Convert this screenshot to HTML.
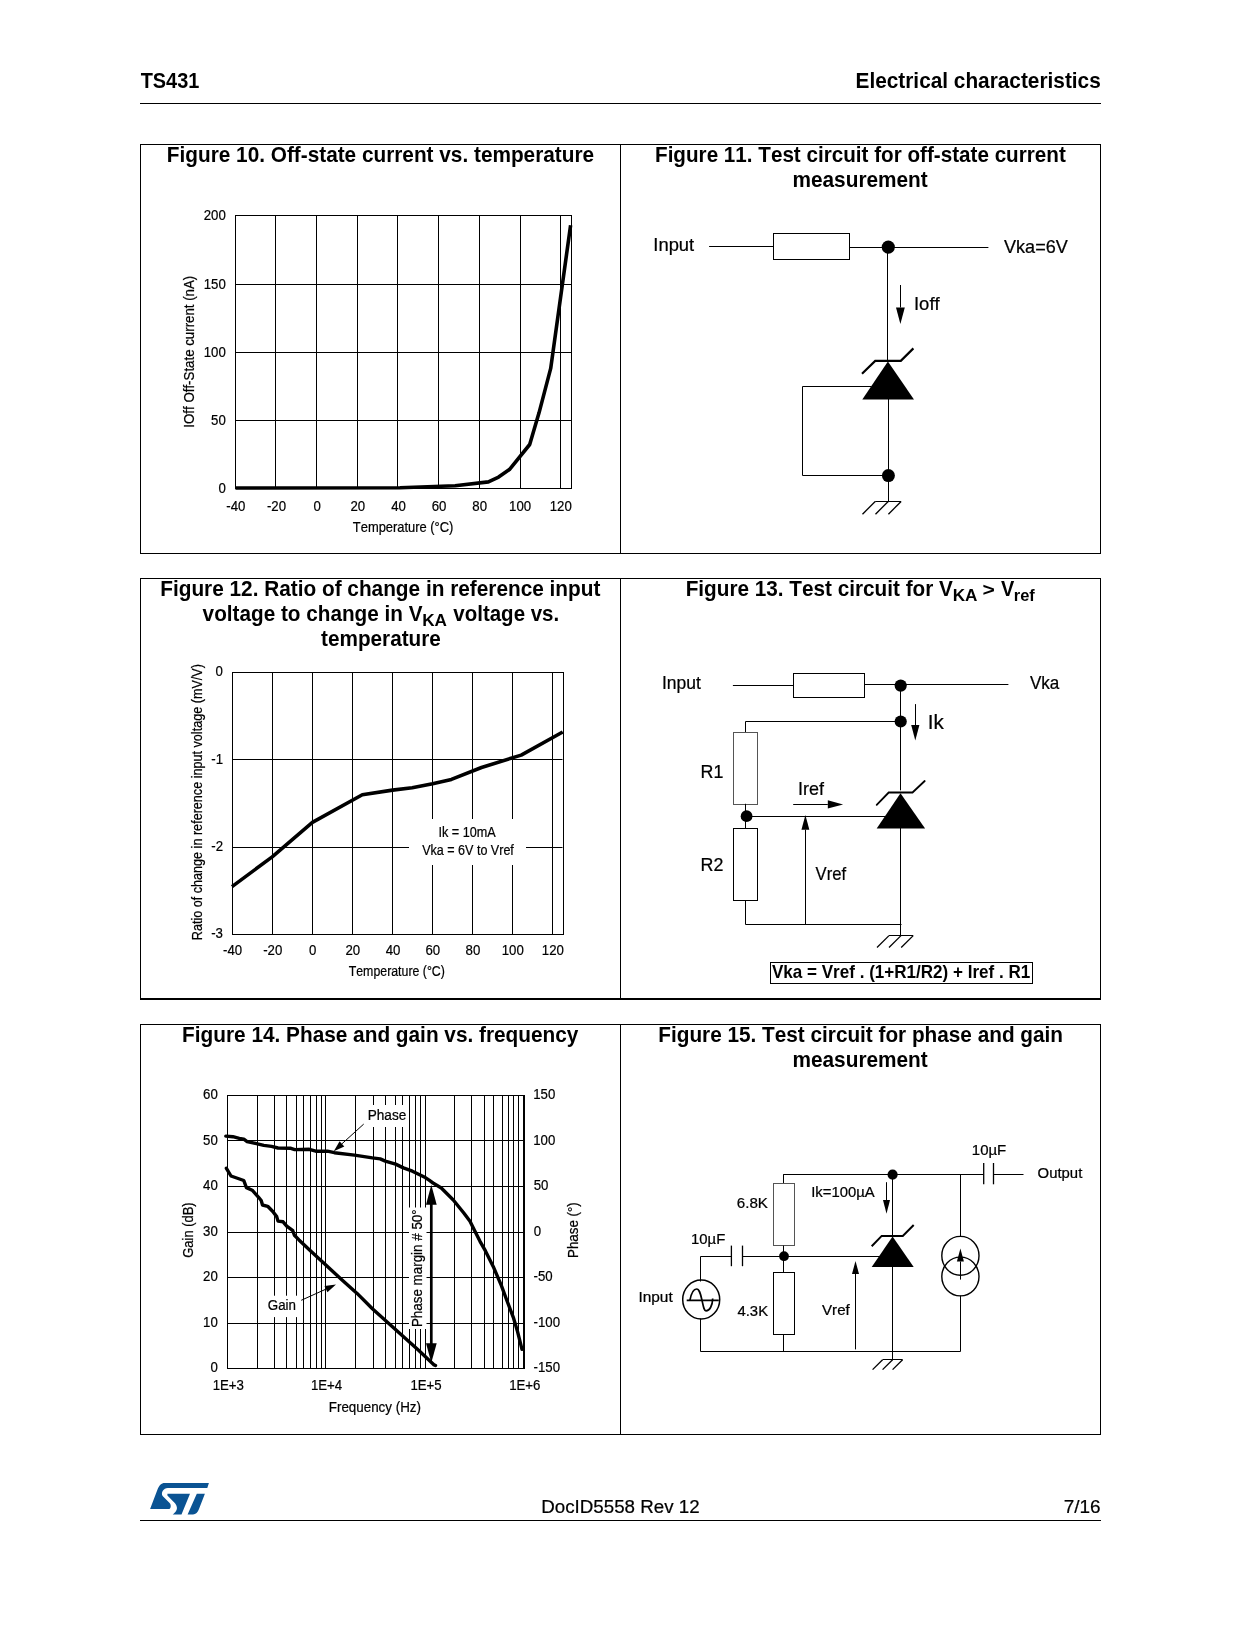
<!DOCTYPE html>
<html><head><meta charset="utf-8"><style>
html,body{margin:0;padding:0;background:#fff;}
svg{display:block;will-change:transform;}
text{font-family:"Liberation Sans",sans-serif;font-kerning:none;fill:#000;stroke:#000;stroke-width:0.22px;}
text[font-weight="bold"]{stroke:none;}
</style></head><body>
<svg width="1242" height="1650" viewBox="0 0 1242 1650">
<rect width="1242" height="1650" fill="#fff"/>
<text transform="translate(140.68,88.00) scale(0.8931,1)" font-size="22.3" font-weight="bold">TS431</text>
<text transform="translate(855.51,88.00) scale(0.9336,1)" font-size="22.3" font-weight="bold">Electrical characteristics</text>
<line x1="140" y1="103.5" x2="1101" y2="103.5" stroke="#000" stroke-width="1.2"/>
<rect x="140.5" y="144.5" width="960.0" height="409.0" fill="none" stroke="#000" stroke-width="1"/>
<line x1="620.5" y1="144" x2="620.5" y2="554" stroke="#000" stroke-width="1"/>
<rect x="140.5" y="578.5" width="960.0" height="420.0" fill="none" stroke="#000" stroke-width="1"/>
<line x1="620.5" y1="578" x2="620.5" y2="999" stroke="#000" stroke-width="1"/>
<line x1="140" y1="999.5" x2="1101" y2="999.5" stroke="#000" stroke-width="1"/>
<rect x="140.5" y="1024.5" width="960.0" height="410.0" fill="none" stroke="#000" stroke-width="1"/>
<line x1="620.5" y1="1024" x2="620.5" y2="1435" stroke="#000" stroke-width="1"/>
<text transform="translate(166.81,162.00) scale(0.9323,1)" font-size="22.3" font-weight="bold">Figure 10. Off-state current vs. temperature</text>
<text transform="translate(655.02,161.80) scale(0.9264,1)" font-size="22.3" font-weight="bold">Figure 11. Test circuit for off-state current</text>
<text transform="translate(792.53,186.90) scale(0.9325,1)" font-size="22.3" font-weight="bold">measurement</text>
<line x1="275.5" y1="215.5" x2="275.5" y2="488.5" stroke="#000" stroke-width="1"/>
<line x1="316.5" y1="215.5" x2="316.5" y2="488.5" stroke="#000" stroke-width="1"/>
<line x1="357.5" y1="215.5" x2="357.5" y2="488.5" stroke="#000" stroke-width="1"/>
<line x1="397.5" y1="215.5" x2="397.5" y2="488.5" stroke="#000" stroke-width="1"/>
<line x1="438.5" y1="215.5" x2="438.5" y2="488.5" stroke="#000" stroke-width="1"/>
<line x1="479.5" y1="215.5" x2="479.5" y2="488.5" stroke="#000" stroke-width="1"/>
<line x1="520.5" y1="215.5" x2="520.5" y2="488.5" stroke="#000" stroke-width="1"/>
<line x1="560.5" y1="215.5" x2="560.5" y2="488.5" stroke="#000" stroke-width="1"/>
<line x1="235.5" y1="284.5" x2="571.5" y2="284.5" stroke="#000" stroke-width="1"/>
<line x1="235.5" y1="352.5" x2="571.5" y2="352.5" stroke="#000" stroke-width="1"/>
<line x1="235.5" y1="420.5" x2="571.5" y2="420.5" stroke="#000" stroke-width="1"/>
<rect x="235.5" y="215.5" width="336.0" height="273.0" fill="none" stroke="#000" stroke-width="1"/>
<text transform="translate(203.74,220.00) scale(0.9000,1)" font-size="14.7">200</text>
<text transform="translate(203.74,288.90) scale(0.9000,1)" font-size="14.7">150</text>
<text transform="translate(203.74,356.90) scale(0.9000,1)" font-size="14.7">100</text>
<text transform="translate(211.10,424.80) scale(0.9000,1)" font-size="14.7">50</text>
<text transform="translate(218.46,492.60) scale(0.9000,1)" font-size="14.7">0</text>
<text transform="translate(226.30,510.80) scale(0.9000,1)" font-size="14.7">-40</text>
<text transform="translate(266.94,510.80) scale(0.9000,1)" font-size="14.7">-20</text>
<text transform="translate(313.50,510.80) scale(0.9000,1)" font-size="14.7">0</text>
<text transform="translate(350.39,510.80) scale(0.9000,1)" font-size="14.7">20</text>
<text transform="translate(391.21,510.80) scale(0.9000,1)" font-size="14.7">40</text>
<text transform="translate(431.66,510.80) scale(0.9000,1)" font-size="14.7">60</text>
<text transform="translate(472.35,510.80) scale(0.9000,1)" font-size="14.7">80</text>
<text transform="translate(509.10,510.80) scale(0.9000,1)" font-size="14.7">100</text>
<text transform="translate(549.74,510.80) scale(0.9000,1)" font-size="14.7">120</text>
<text transform="translate(194.10,427.63) rotate(-90) scale(0.9555,1)" font-size="13.9">IOff Off-State current (nA)</text>
<text transform="translate(352.81,531.90) scale(0.8792,1)" font-size="14.7">Temperature (°C)</text>
<polyline points="235.50,488.00 400.00,487.70 455.10,485.80 488.40,481.90 498.60,477.10 509.40,469.60 529.70,444.50 539.10,412.60 550.70,368.40 570.60,225.30" fill="none" stroke="#000" stroke-width="3.6" stroke-linejoin="round"/>
<text transform="translate(653.30,250.80) scale(1.0517,1)" font-size="17.5">Input</text>
<line x1="709.1" y1="246.5" x2="773.3" y2="246.5" stroke="#000" stroke-width="1"/>
<rect x="773.5" y="233.5" width="76.0" height="26.0" fill="none" stroke="#000" stroke-width="1"/>
<line x1="849.5" y1="247.5" x2="988.4" y2="247.5" stroke="#000" stroke-width="1"/>
<circle cx="888.3" cy="247.1" r="6.6" fill="#000"/>
<text transform="translate(1004.02,252.60) scale(1.0337,1)" font-size="17.5">Vka=6V</text>
<line x1="887.5" y1="247" x2="887.5" y2="360" stroke="#000" stroke-width="1"/>
<line x1="900.5" y1="285.0" x2="900.5" y2="307.5" stroke="#000" stroke-width="1"/>
<polygon points="896.00,307.50 904.80,307.50 900.40,323.90" fill="#000"/>
<text transform="translate(913.99,309.50) scale(1.0559,1)" font-size="17.5">Ioff</text>
<polygon points="887.90,361.50 914.00,399.40 862.30,399.40" fill="#000"/>
<polyline points="862.00,373.70 875.20,360.90 900.80,360.90 913.40,348.40" fill="none" stroke="#000" stroke-width="2.2"/>
<polyline points="871.50,386.50 802.50,386.50 802.50,475.50 888.50,475.50" fill="none" stroke="#000" stroke-width="1"/>
<line x1="888.5" y1="399" x2="888.5" y2="501.5" stroke="#000" stroke-width="1"/>
<circle cx="888.4" cy="475.6" r="6.5" fill="#000"/>
<line x1="875.2" y1="501.5" x2="901.1" y2="501.5" stroke="#000" stroke-width="1"/>
<line x1="875.2" y1="501.5" x2="862.5" y2="514.2" stroke="#000" stroke-width="1.3"/>
<line x1="888.2" y1="501.5" x2="875.5" y2="514.2" stroke="#000" stroke-width="1.3"/>
<line x1="901.1" y1="501.5" x2="888.4" y2="514.2" stroke="#000" stroke-width="1.3"/>
<text transform="translate(160.21,595.90) scale(0.9332,1)" font-size="22.3" font-weight="bold">Figure 12. Ratio of change in reference input</text>
<text transform="translate(321.05,645.90) scale(0.9300,1)" font-size="22.3" font-weight="bold">temperature</text>
<line x1="272.5" y1="672.5" x2="272.5" y2="934.5" stroke="#000" stroke-width="1"/>
<line x1="312.5" y1="672.5" x2="312.5" y2="934.5" stroke="#000" stroke-width="1"/>
<line x1="352.5" y1="672.5" x2="352.5" y2="934.5" stroke="#000" stroke-width="1"/>
<line x1="392.5" y1="672.5" x2="392.5" y2="934.5" stroke="#000" stroke-width="1"/>
<line x1="432.5" y1="672.5" x2="432.5" y2="934.5" stroke="#000" stroke-width="1"/>
<line x1="472.5" y1="672.5" x2="472.5" y2="934.5" stroke="#000" stroke-width="1"/>
<line x1="512.5" y1="672.5" x2="512.5" y2="934.5" stroke="#000" stroke-width="1"/>
<line x1="552.5" y1="672.5" x2="552.5" y2="934.5" stroke="#000" stroke-width="1"/>
<line x1="232.5" y1="759.5" x2="562.5" y2="759.5" stroke="#000" stroke-width="1"/>
<line x1="232.5" y1="847.5" x2="562.5" y2="847.5" stroke="#000" stroke-width="1"/>
<rect x="232.5" y="672.5" width="331.0" height="262.0" fill="none" stroke="#000" stroke-width="1"/>
<rect x="409" y="819" width="117" height="46" fill="#fff"/>
<text transform="translate(215.56,676.00) scale(0.9000,1)" font-size="14.7">0</text>
<text transform="translate(211.28,764.00) scale(0.9000,1)" font-size="14.7">-1</text>
<text transform="translate(211.30,851.20) scale(0.9000,1)" font-size="14.7">-2</text>
<text transform="translate(211.22,938.20) scale(0.9000,1)" font-size="14.7">-3</text>
<text transform="translate(223.10,954.60) scale(0.9000,1)" font-size="14.7">-40</text>
<text transform="translate(263.15,954.60) scale(0.9000,1)" font-size="14.7">-20</text>
<text transform="translate(309.12,954.60) scale(0.9000,1)" font-size="14.7">0</text>
<text transform="translate(345.42,954.60) scale(0.9000,1)" font-size="14.7">20</text>
<text transform="translate(385.65,954.60) scale(0.9000,1)" font-size="14.7">40</text>
<text transform="translate(425.51,954.60) scale(0.9000,1)" font-size="14.7">60</text>
<text transform="translate(465.61,954.60) scale(0.9000,1)" font-size="14.7">80</text>
<text transform="translate(501.77,954.60) scale(0.9000,1)" font-size="14.7">100</text>
<text transform="translate(541.82,954.60) scale(0.9000,1)" font-size="14.7">120</text>
<text transform="translate(201.80,940.23) rotate(-90) scale(0.9077,1)" font-size="13.9">Ratio of change in reference input voltage (mV/V)</text>
<text transform="translate(348.72,975.50) scale(0.8404,1)" font-size="14.7">Temperature (°C)</text>
<text transform="translate(438.53,837.00) scale(0.8604,1)" font-size="14.7">Ik = 10mA</text>
<text transform="translate(422.14,854.50) scale(0.8547,1)" font-size="14.7">Vka = 6V to Vref</text>
<polyline points="232.00,886.60 272.20,856.90 312.40,822.40 362.30,794.70 392.50,790.10 412.20,787.80 432.60,783.70 451.40,779.40 481.50,767.50 521.20,755.10 562.70,732.00" fill="none" stroke="#000" stroke-width="3.6" stroke-linejoin="round"/>
<text transform="translate(661.88,688.90) scale(1.0006,1)" font-size="17.5">Input</text>
<line x1="732.9" y1="685.5" x2="793.5" y2="685.5" stroke="#000" stroke-width="1"/>
<rect x="793.5" y="673.5" width="71.0" height="24.0" fill="none" stroke="#000" stroke-width="1"/>
<line x1="864.6" y1="684.5" x2="1008.4" y2="684.5" stroke="#000" stroke-width="1"/>
<circle cx="900.7" cy="685.6" r="6.1" fill="#000"/>
<text transform="translate(1029.92,689.00) scale(0.9775,1)" font-size="17.5">Vka</text>
<line x1="900.5" y1="684.6" x2="900.5" y2="790.3" stroke="#000" stroke-width="1"/>
<circle cx="900.7" cy="721.5" r="6.1" fill="#000"/>
<polyline points="745.50,732.50 745.50,721.50 900.50,721.50" fill="none" stroke="#000" stroke-width="1"/>
<rect x="733.5" y="732.5" width="24.0" height="72.0" fill="none" stroke="#555" stroke-width="1"/>
<circle cx="746.6" cy="816.2" r="5.9" fill="#000"/>
<line x1="745.5" y1="803.8" x2="745.5" y2="828.4" stroke="#000" stroke-width="1"/>
<rect x="733.5" y="828.5" width="24.0" height="72.0" fill="none" stroke="#000" stroke-width="1"/>
<polyline points="745.50,900.50 745.50,924.50 901.50,924.50" fill="none" stroke="#000" stroke-width="1"/>
<line x1="805.5" y1="924.3" x2="805.5" y2="829.7" stroke="#000" stroke-width="1"/>
<polygon points="801.45,829.70 809.35,829.70 805.40,815.10" fill="#000"/>
<line x1="746.5" y1="816.5" x2="886" y2="816.5" stroke="#000" stroke-width="1"/>
<line x1="793.2" y1="804.5" x2="827.8000000000001" y2="804.5" stroke="#000" stroke-width="1"/>
<polygon points="827.80,800.25 827.80,808.55 843.10,804.40" fill="#000"/>
<text transform="translate(798.04,794.80) scale(1.0255,1)" font-size="17.5">Iref</text>
<text transform="translate(927.69,728.90) scale(0.9842,1)" font-size="21.0">Ik</text>
<line x1="915.5" y1="704.1" x2="915.5" y2="725.1" stroke="#000" stroke-width="1"/>
<polygon points="911.20,725.10 919.40,725.10 915.30,740.50" fill="#000"/>
<text transform="translate(700.53,778.10) scale(1.0209,1)" font-size="17.5">R1</text>
<text transform="translate(700.53,870.80) scale(1.0222,1)" font-size="17.5">R2</text>
<text transform="translate(815.53,879.90) scale(0.9518,1)" font-size="17.5">Vref</text>
<polygon points="900.50,793.20 925.10,828.40 876.70,828.40" fill="#000"/>
<polyline points="876.70,804.80 888.70,792.50 912.50,792.50 924.70,781.00" fill="none" stroke="#000" stroke-width="1.8" stroke-linecap="round"/>
<line x1="900.5" y1="828" x2="900.5" y2="935.6" stroke="#000" stroke-width="1"/>
<line x1="889.0" y1="935.5" x2="913.2" y2="935.5" stroke="#000" stroke-width="1"/>
<line x1="889.0" y1="935.6" x2="877.0" y2="947.5" stroke="#000" stroke-width="1.3"/>
<line x1="901.0" y1="935.6" x2="889.0" y2="947.5" stroke="#000" stroke-width="1.3"/>
<line x1="913.2" y1="935.6" x2="901.2" y2="947.5" stroke="#000" stroke-width="1.3"/>
<rect x="770.5" y="962.5" width="262.0" height="21.0" fill="none" stroke="#000" stroke-width="1"/>
<text transform="translate(771.98,978.00) scale(0.9756,1)" font-size="17.5" font-weight="bold">Vka = Vref . (1+R1/R2) + Iref . R1</text>
<text transform="translate(202.62,620.70) scale(0.9297,1)" font-size="22.3" font-weight="bold">voltage to change in V</text>
<text transform="translate(422.15,625.50) scale(1.0407,1)" font-size="16.5" font-weight="bold">KA</text>
<text transform="translate(453.32,620.70) scale(0.9186,1)" font-size="22.3" font-weight="bold">voltage vs.</text>
<text transform="translate(685.71,595.70) scale(0.9299,1)" font-size="22.3" font-weight="bold">Figure 13. Test circuit for V</text>
<text transform="translate(952.65,600.80) scale(1.0407,1)" font-size="16.5" font-weight="bold">KA</text>
<text transform="translate(982.41,596.30) scale(1.2079,1)" font-size="17.5" font-weight="bold">&gt;</text>
<text transform="translate(1001.06,595.70) scale(0.8923,1)" font-size="22.3" font-weight="bold">V</text>
<text transform="translate(1013.81,600.80) scale(0.9982,1)" font-size="16.5" font-weight="bold">ref</text>
<text transform="translate(182.11,1041.90) scale(0.9332,1)" font-size="22.3" font-weight="bold">Figure 14. Phase and gain vs. frequency</text>
<line x1="257.5" y1="1095.5" x2="257.5" y2="1368.5" stroke="#000" stroke-width="1"/>
<line x1="274.5" y1="1095.5" x2="274.5" y2="1368.5" stroke="#000" stroke-width="1"/>
<line x1="286.5" y1="1095.5" x2="286.5" y2="1368.5" stroke="#000" stroke-width="1"/>
<line x1="296.5" y1="1095.5" x2="296.5" y2="1368.5" stroke="#000" stroke-width="1"/>
<line x1="303.5" y1="1095.5" x2="303.5" y2="1368.5" stroke="#000" stroke-width="1"/>
<line x1="310.5" y1="1095.5" x2="310.5" y2="1368.5" stroke="#000" stroke-width="1"/>
<line x1="316.5" y1="1095.5" x2="316.5" y2="1368.5" stroke="#000" stroke-width="1"/>
<line x1="321.5" y1="1095.5" x2="321.5" y2="1368.5" stroke="#000" stroke-width="1"/>
<line x1="325.5" y1="1095.5" x2="325.5" y2="1368.5" stroke="#000" stroke-width="1"/>
<line x1="355.5" y1="1095.5" x2="355.5" y2="1368.5" stroke="#000" stroke-width="1"/>
<line x1="373.5" y1="1095.5" x2="373.5" y2="1368.5" stroke="#000" stroke-width="1"/>
<line x1="385.5" y1="1095.5" x2="385.5" y2="1368.5" stroke="#000" stroke-width="1"/>
<line x1="395.5" y1="1095.5" x2="395.5" y2="1368.5" stroke="#000" stroke-width="1"/>
<line x1="402.5" y1="1095.5" x2="402.5" y2="1368.5" stroke="#000" stroke-width="1"/>
<line x1="409.5" y1="1095.5" x2="409.5" y2="1368.5" stroke="#000" stroke-width="1"/>
<line x1="415.5" y1="1095.5" x2="415.5" y2="1368.5" stroke="#000" stroke-width="1"/>
<line x1="420.5" y1="1095.5" x2="420.5" y2="1368.5" stroke="#000" stroke-width="1"/>
<line x1="425.5" y1="1095.5" x2="425.5" y2="1368.5" stroke="#000" stroke-width="1"/>
<line x1="454.5" y1="1095.5" x2="454.5" y2="1368.5" stroke="#000" stroke-width="1"/>
<line x1="471.5" y1="1095.5" x2="471.5" y2="1368.5" stroke="#000" stroke-width="1"/>
<line x1="484.5" y1="1095.5" x2="484.5" y2="1368.5" stroke="#000" stroke-width="1"/>
<line x1="493.5" y1="1095.5" x2="493.5" y2="1368.5" stroke="#000" stroke-width="1"/>
<line x1="502.5" y1="1095.5" x2="502.5" y2="1368.5" stroke="#000" stroke-width="1"/>
<line x1="508.5" y1="1095.5" x2="508.5" y2="1368.5" stroke="#000" stroke-width="1"/>
<line x1="513.5" y1="1095.5" x2="513.5" y2="1368.5" stroke="#000" stroke-width="1"/>
<line x1="518.5" y1="1095.5" x2="518.5" y2="1368.5" stroke="#000" stroke-width="1"/>
<line x1="227.5" y1="1140.5" x2="524.0" y2="1140.5" stroke="#000" stroke-width="1"/>
<line x1="227.5" y1="1186.5" x2="524.0" y2="1186.5" stroke="#000" stroke-width="1"/>
<line x1="227.5" y1="1232.5" x2="524.0" y2="1232.5" stroke="#000" stroke-width="1"/>
<line x1="227.5" y1="1277.5" x2="524.0" y2="1277.5" stroke="#000" stroke-width="1"/>
<line x1="227.5" y1="1323.5" x2="524.0" y2="1323.5" stroke="#000" stroke-width="1"/>
<line x1="227.5" y1="1095.5" x2="524" y2="1095.5" stroke="#000" stroke-width="1"/>
<line x1="227.5" y1="1368.5" x2="524" y2="1368.5" stroke="#000" stroke-width="1"/>
<line x1="227.5" y1="1095.0" x2="227.5" y2="1369.0" stroke="#000" stroke-width="1"/>
<line x1="524" y1="1095.0" x2="524" y2="1369.0" stroke="#000" stroke-width="2"/>
<rect x="365" y="1105" width="41" height="22" fill="#fff"/>
<rect x="262" y="1295.7" width="38" height="21.4" fill="#fff"/>
<rect x="409" y="1207.5" width="17.5" height="121.5" fill="#fff"/>
<text transform="translate(203.10,1099.20) scale(0.9000,1)" font-size="14.7">60</text>
<text transform="translate(533.19,1099.20) scale(0.9000,1)" font-size="14.7">150</text>
<text transform="translate(203.10,1144.70) scale(0.9000,1)" font-size="14.7">50</text>
<text transform="translate(533.19,1144.70) scale(0.9000,1)" font-size="14.7">100</text>
<text transform="translate(203.10,1190.20) scale(0.9000,1)" font-size="14.7">40</text>
<text transform="translate(533.67,1190.20) scale(0.9000,1)" font-size="14.7">50</text>
<text transform="translate(203.10,1235.70) scale(0.9000,1)" font-size="14.7">30</text>
<text transform="translate(533.68,1235.70) scale(0.9000,1)" font-size="14.7">0</text>
<text transform="translate(203.10,1281.20) scale(0.9000,1)" font-size="14.7">20</text>
<text transform="translate(533.61,1281.20) scale(0.9000,1)" font-size="14.7">-50</text>
<text transform="translate(203.10,1326.70) scale(0.9000,1)" font-size="14.7">10</text>
<text transform="translate(533.61,1326.70) scale(0.9000,1)" font-size="14.7">-100</text>
<text transform="translate(210.46,1372.20) scale(0.9000,1)" font-size="14.7">0</text>
<text transform="translate(533.61,1372.20) scale(0.9000,1)" font-size="14.7">-150</text>
<text transform="translate(212.65,1389.80) scale(0.9000,1)" font-size="14.7">1E+3</text>
<text transform="translate(310.96,1389.80) scale(0.9000,1)" font-size="14.7">1E+4</text>
<text transform="translate(410.44,1389.80) scale(0.9000,1)" font-size="14.7">1E+5</text>
<text transform="translate(509.15,1389.80) scale(0.9000,1)" font-size="14.7">1E+6</text>
<text transform="translate(328.80,1411.80) scale(0.9105,1)" font-size="14.7">Frequency (Hz)</text>
<text transform="translate(193.20,1257.75) rotate(-90) scale(0.9323,1)" font-size="13.9">Gain (dB)</text>
<text transform="translate(577.80,1258.00) rotate(-90) scale(0.9610,1)" font-size="13.9">Phase (°)</text>
<text transform="translate(367.68,1119.90) scale(0.9266,1)" font-size="14.7">Phase</text>
<text transform="translate(267.73,1309.50) scale(0.9095,1)" font-size="14.7">Gain</text>
<text transform="translate(422.00,1327.10) rotate(-90) scale(0.9646,1)" font-size="13.9">Phase margin # 50°</text>
<polyline points="225.80,1136.10 232.90,1136.70 239.30,1138.40 243.80,1139.10 247.10,1141.60 257.40,1143.80 263.80,1145.40 271.50,1146.40 278.00,1148.00 290.90,1148.30 294.70,1149.60 309.30,1149.30 315.80,1151.20 327.40,1151.20 334.40,1152.70 354.40,1155.10 372.40,1157.90 380.20,1158.90 385.30,1161.10 395.60,1164.10 403.40,1167.90 412.40,1171.20 425.30,1177.60 429.10,1180.20 433.00,1183.00 441.30,1188.00 453.30,1200.00 464.00,1213.30 470.00,1221.30 474.70,1230.70 480.00,1241.30 485.30,1250.70 493.30,1266.70 501.30,1285.30 506.70,1300.00 513.30,1317.30 517.30,1330.70 522.00,1349.30" fill="none" stroke="#000" stroke-width="3.4" stroke-linejoin="round" stroke-linecap="round"/>
<polyline points="226.40,1168.30 231.00,1176.00 236.70,1178.00 243.80,1180.50 246.40,1187.60 252.20,1190.20 258.60,1197.30 261.20,1200.50 262.50,1205.00 267.70,1206.30 272.80,1211.50 276.70,1216.60 278.00,1221.10 283.10,1221.80 286.70,1226.10 292.80,1230.70 294.40,1235.30 299.00,1239.90 311.20,1251.40 323.40,1262.80 341.80,1279.70 357.10,1293.40 372.40,1308.70 387.70,1322.50 403.00,1336.30 418.30,1350.00 433.60,1364.60 435.50,1365.50" fill="none" stroke="#000" stroke-width="3.4" stroke-linejoin="round" stroke-linecap="round"/>
<line x1="363.7" y1="1124.1" x2="341.9504325863262" y2="1143.8128186257713" stroke="#000" stroke-width="1"/>
<polygon points="339.60,1141.22 344.30,1146.41 333.80,1151.20" fill="#000"/>
<line x1="301.2" y1="1300.3" x2="325.9731809412436" y2="1289.1235936558182" stroke="#000" stroke-width="1"/>
<polygon points="327.41,1292.31 324.53,1285.93 336.00,1284.60" fill="#000"/>
<line x1="431.3" y1="1200" x2="431.3" y2="1347" stroke="#000" stroke-width="2.7"/>
<polygon points="426.00,1204.70 436.70,1204.70 431.30,1184.70" fill="#000"/>
<polygon points="426.00,1343.30 436.70,1343.30 431.30,1362.70" fill="#000"/>
<text transform="translate(658.31,1041.90) scale(0.9309,1)" font-size="22.3" font-weight="bold">Figure 15. Test circuit for phase and gain</text>
<text transform="translate(792.53,1066.90) scale(0.9325,1)" font-size="22.3" font-weight="bold">measurement</text>
<line x1="783.2" y1="1174.5" x2="983.7" y2="1174.5" stroke="#000" stroke-width="1"/>
<line x1="783.5" y1="1174.5" x2="783.5" y2="1183.7" stroke="#000" stroke-width="1"/>
<rect x="773.5" y="1183.5" width="21.0" height="62.0" fill="none" stroke="#555" stroke-width="1"/>
<line x1="783.5" y1="1245.6" x2="783.5" y2="1272.4" stroke="#000" stroke-width="1"/>
<circle cx="784.0" cy="1256.2" r="4.9" fill="#000"/>
<text transform="translate(736.83,1207.70) scale(1.0660,1)" font-size="14.2">6.8K</text>
<text transform="translate(811.23,1196.50) scale(1.0447,1)" font-size="14.2">Ik=100µA</text>
<text transform="translate(691.07,1244.40) scale(1.0484,1)" font-size="14.2">10µF</text>
<polyline points="700.50,1281.50 700.50,1256.50 731.50,1256.50" fill="none" stroke="#000" stroke-width="1"/>
<line x1="731.4" y1="1245.6" x2="731.4" y2="1266.2" stroke="#000" stroke-width="1.3"/>
<line x1="742.5" y1="1245.6" x2="742.5" y2="1266.2" stroke="#000" stroke-width="1.3"/>
<line x1="742.5" y1="1256.5" x2="880" y2="1256.5" stroke="#000" stroke-width="1"/>
<rect x="773.5" y="1272.5" width="21.0" height="62.0" fill="none" stroke="#000" stroke-width="1"/>
<line x1="783.5" y1="1334.5" x2="783.5" y2="1351.2" stroke="#000" stroke-width="1"/>
<polyline points="700.50,1318.50 700.50,1351.50 960.50,1351.50 960.50,1295.50" fill="none" stroke="#000" stroke-width="1"/>
<ellipse cx="701.2" cy="1299.5" rx="18.5" ry="19.6" fill="none" stroke="#000" stroke-width="1.5"/>
<line x1="686.7" y1="1300.3" x2="718.8" y2="1300.3" stroke="#000" stroke-width="1.7"/>
<path d="M689.9,1300.3 C691.5,1292 693.5,1289 696.6,1289 C699.5,1289 700.5,1294 702,1300.3 C703.5,1307 704,1310.8 706,1310.8 C709.5,1310.8 712.5,1306 712.7,1298.5" fill="none" stroke="#000" stroke-width="1.7"/>
<text transform="translate(638.38,1302.30) scale(1.0872,1)" font-size="14.2">Input</text>
<text transform="translate(737.46,1316.00) scale(1.0478,1)" font-size="14.2">4.3K</text>
<text transform="translate(822.03,1315.10) scale(1.0653,1)" font-size="14.2">Vref</text>
<line x1="855.5" y1="1349.4" x2="855.5" y2="1273.8999999999999" stroke="#000" stroke-width="1"/>
<polygon points="852.00,1273.90 859.00,1273.90 855.50,1261.10" fill="#000"/>
<circle cx="892.6" cy="1174.6" r="5.1" fill="#000"/>
<line x1="892.5" y1="1174.6" x2="892.5" y2="1237" stroke="#000" stroke-width="1"/>
<line x1="886.5" y1="1182.2" x2="886.5" y2="1200.0" stroke="#000" stroke-width="1"/>
<polygon points="883.00,1200.00 890.00,1200.00 886.50,1213.70" fill="#000"/>
<polygon points="892.60,1236.50 913.70,1267.00 871.70,1267.00" fill="#000"/>
<polyline points="871.70,1246.30 881.70,1235.90 902.80,1235.90 913.70,1225.00" fill="none" stroke="#000" stroke-width="2.0"/>
<line x1="892.5" y1="1267" x2="892.5" y2="1359.8" stroke="#000" stroke-width="1"/>
<line x1="882.6" y1="1359.5" x2="902.6" y2="1359.5" stroke="#000" stroke-width="1"/>
<line x1="882.6" y1="1359.8" x2="872.6" y2="1369.6" stroke="#000" stroke-width="1.3"/>
<line x1="892.6" y1="1359.8" x2="882.6" y2="1369.6" stroke="#000" stroke-width="1.3"/>
<line x1="902.6" y1="1359.8" x2="892.6" y2="1369.6" stroke="#000" stroke-width="1.3"/>
<line x1="960.5" y1="1174.6" x2="960.5" y2="1236.5" stroke="#000" stroke-width="1"/>
<ellipse cx="960.4" cy="1255.8" rx="18.6" ry="19.4" fill="none" stroke="#000" stroke-width="1.4"/>
<ellipse cx="960.4" cy="1276.5" rx="18.6" ry="19.4" fill="none" stroke="#000" stroke-width="1.4"/>
<line x1="960.5" y1="1279.6" x2="960.5" y2="1261.5" stroke="#000" stroke-width="1"/>
<polygon points="956.90,1261.50 963.90,1261.50 960.40,1248.50" fill="#000"/>
<line x1="983.7" y1="1163.0" x2="983.7" y2="1184.3" stroke="#000" stroke-width="1.3"/>
<line x1="993.5" y1="1163.0" x2="993.5" y2="1184.3" stroke="#000" stroke-width="1.3"/>
<line x1="993.5" y1="1174.5" x2="1023.5" y2="1174.5" stroke="#000" stroke-width="1"/>
<text transform="translate(971.86,1155.00) scale(1.0548,1)" font-size="14.2">10µF</text>
<text transform="translate(1037.59,1177.80) scale(1.0490,1)" font-size="14.2">Output</text>
<path fill="#0a5393" d="M164.6,1482.9 L208.9,1482.9 L207.3,1487.9 L167.8,1487.9 C163.5,1487.9 160.6,1492.5 162.6,1496 L169.6,1503.0 C171.5,1505 171,1509.1 168.6,1509.1 L150.1,1509.1 L157.5,1489.5 C158.8,1485.5 161.5,1482.9 164.6,1482.9 Z M167.4,1493.8 L190.0,1493.8 L181.5,1514.4 L172.7,1514.4 C175.5,1512.5 177.5,1509.5 176.8,1507 C176.3,1505 175.5,1503.8 174.5,1502.8 L167.4,1495.5 Z M196.8,1493.8 L204.9,1493.8 L199.0,1509 C197.8,1512.3 195.8,1514.4 193.0,1514.4 L187.6,1514.4 Z"/>
<line x1="140" y1="1520.5" x2="1101" y2="1520.5" stroke="#000" stroke-width="1.2"/>
<text transform="translate(541.26,1512.70) scale(0.9769,1)" font-size="19.2">DocID5558 Rev 12</text>
<text transform="translate(1063.73,1512.70) scale(0.9876,1)" font-size="19.2">7/16</text>
</svg></body></html>
